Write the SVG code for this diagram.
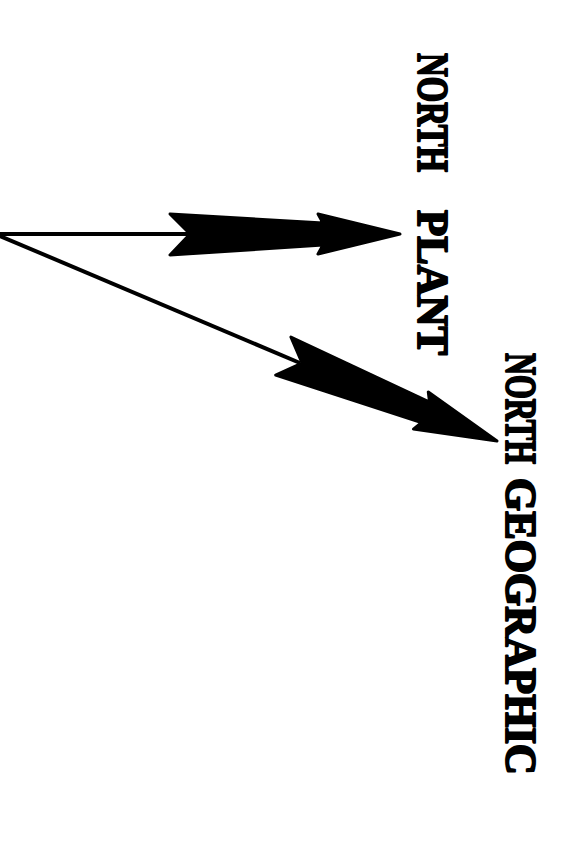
<svg xmlns="http://www.w3.org/2000/svg" xmlns:xlink="http://www.w3.org/1999/xlink" width="573" height="855" viewBox="0 0 573 855">
<style>
.bg{fill:#ffffff}
.ln{stroke:#000;stroke-width:4;fill:none}
.ah{fill:#000;stroke:#000;stroke-width:3;stroke-linejoin:round}
.lbl{font-family:"Liberation Serif","DejaVu Serif",serif;font-weight:bold;font-size:44px;fill:#000;stroke:#000;stroke-width:2;stroke-linejoin:round}
</style>
<defs>
<path id="arrow" d="M0,0 L-82,-20 L-77,-11 L-230,-20 L-210,0 L-230,21 L-77,11 L-82,20 Z"/>
</defs>
<rect class="bg" x="0" y="0" width="573" height="855"/>
<g id="connectors">
<line class="ln" x1="0" y1="234" x2="192" y2="234"/>
<line class="ln" x1="0" y1="236" x2="300" y2="363"/>
<use class="ah" xlink:href="#arrow" transform="translate(400,234)"/>
<use class="ah" xlink:href="#arrow" transform="translate(497,441) rotate(21.8)"/>
</g>
<g id="north-plant">
<text class="lbl" transform="translate(418,0) rotate(90)"><tspan x="53" y="0" textLength="119" lengthAdjust="spacingAndGlyphs">NORTH</tspan> <tspan x="210" y="0" textLength="145" lengthAdjust="spacingAndGlyphs">PLANT</tspan></text>
</g>
<g id="north-geographic">
<text class="lbl" transform="translate(506,0) rotate(90)"><tspan x="353" y="0" textLength="111" lengthAdjust="spacingAndGlyphs">NORTH</tspan> <tspan x="478" y="0" textLength="297" lengthAdjust="spacingAndGlyphs">GEOGRAPHIC</tspan></text>
</g>
</svg>
